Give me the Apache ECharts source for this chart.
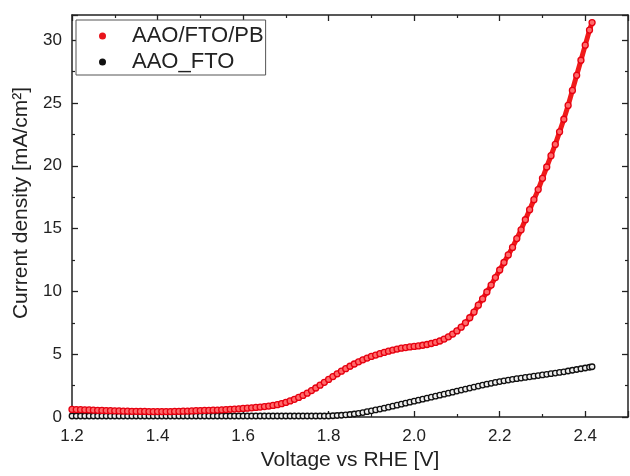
<html>
<head>
  <meta charset="utf-8">
  <title>LSV</title>
  <script src="https://cdn.jsdelivr.net/npm/echarts@6/dist/echarts.min.js"></script>
  <style>
    html, body { margin: 0; width: 100%; height: 100%; background: #fff; }
    #chart { width: 630px; height: 476px; }
  </style>
</head>
<body>
  <div id="chart"></div>
  <script>
    // voltage vs RHE [V]
    var voltage = [
      1.20, 1.21, 1.22, 1.23, 1.24, 1.25, 1.26, 1.27, 1.28, 1.29,
      1.30, 1.31, 1.32, 1.33, 1.34, 1.35, 1.36, 1.37, 1.38, 1.39,
      1.40, 1.41, 1.42, 1.43, 1.44, 1.45, 1.46, 1.47, 1.48, 1.49,
      1.50, 1.51, 1.52, 1.53, 1.54, 1.55, 1.56, 1.57, 1.58, 1.59,
      1.60, 1.61, 1.62, 1.63, 1.64, 1.65, 1.66, 1.67, 1.68, 1.69,
      1.70, 1.71, 1.72, 1.73, 1.74, 1.75, 1.76, 1.77, 1.78, 1.79,
      1.80, 1.81, 1.82, 1.83, 1.84, 1.85, 1.86, 1.87, 1.88, 1.89,
      1.90, 1.91, 1.92, 1.93, 1.94, 1.95, 1.96, 1.97, 1.98, 1.99,
      2.00, 2.01, 2.02, 2.03, 2.04, 2.05, 2.06, 2.07, 2.08, 2.09,
      2.10, 2.11, 2.12, 2.13, 2.14, 2.15, 2.16, 2.17, 2.18, 2.19,
      2.20, 2.21, 2.22, 2.23, 2.24, 2.25, 2.26, 2.27, 2.28, 2.29,
      2.30, 2.31, 2.32, 2.33, 2.34, 2.35, 2.36, 2.37, 2.38, 2.39,
      2.40, 2.41, 2.416
    ];

    // AAO/FTO/PB current density [mA/cm2]
    var pbCurrent = [
      0.60, 0.59, 0.58, 0.57, 0.56, 0.54, 0.53, 0.52, 0.51, 0.50,
      0.49, 0.48, 0.47, 0.46, 0.45, 0.45, 0.44, 0.44, 0.43, 0.43,
      0.43, 0.43, 0.43, 0.43, 0.44, 0.45, 0.46, 0.47, 0.48, 0.50,
      0.51, 0.52, 0.53, 0.54, 0.55, 0.57, 0.59, 0.61, 0.63, 0.65,
      0.68, 0.70, 0.73, 0.76, 0.79, 0.83, 0.87, 0.92, 0.98, 1.06,
      1.16, 1.28, 1.41, 1.56, 1.72, 1.90, 2.10, 2.31, 2.53, 2.76,
      2.99, 3.22, 3.44, 3.65, 3.85, 4.04, 4.22, 4.39, 4.55, 4.69,
      4.82, 4.93, 5.04, 5.14, 5.24, 5.33, 5.41, 5.48, 5.53, 5.58,
      5.62, 5.66, 5.71, 5.77, 5.85, 5.94, 6.05, 6.20, 6.38, 6.60,
      6.85, 7.15, 7.50, 7.90, 8.35, 8.90, 9.40, 9.95, 10.5, 11.1,
      11.7, 12.3, 12.9, 13.5, 14.2, 14.9, 15.7, 16.5, 17.3, 18.1,
      19.0, 19.9, 20.8, 21.7, 22.7, 23.7, 24.8, 26.0, 27.2, 28.4,
      29.6, 30.8, 31.4
    ];

    // AAO_FTO current density [mA/cm2]
    var ftoCurrent = [
      0.08, 0.08, 0.08, 0.08, 0.08, 0.08, 0.08, 0.08, 0.08, 0.08,
      0.08, 0.08, 0.08, 0.08, 0.08, 0.08, 0.08, 0.08, 0.08, 0.08,
      0.08, 0.08, 0.08, 0.08, 0.08, 0.08, 0.08, 0.08, 0.08, 0.08,
      0.08, 0.08, 0.08, 0.08, 0.08, 0.08, 0.08, 0.08, 0.08, 0.08,
      0.08, 0.08, 0.08, 0.08, 0.08, 0.08, 0.08, 0.08, 0.08, 0.08,
      0.08, 0.08, 0.08, 0.08, 0.08, 0.08, 0.08, 0.08, 0.08, 0.08,
      0.08, 0.10, 0.12, 0.14, 0.17, 0.20, 0.24, 0.29, 0.35, 0.42,
      0.49, 0.56, 0.63, 0.70, 0.78, 0.86, 0.94, 1.02, 1.10, 1.18,
      1.26, 1.34, 1.42, 1.50, 1.58, 1.66, 1.74, 1.82, 1.90, 1.98,
      2.06, 2.14, 2.22, 2.30, 2.38, 2.46, 2.54, 2.61, 2.68, 2.75,
      2.82, 2.88, 2.94, 3.00, 3.05, 3.10, 3.15, 3.20, 3.25, 3.30,
      3.35, 3.40, 3.45, 3.50, 3.55, 3.60, 3.66, 3.72, 3.78, 3.84,
      3.90, 3.96, 4.00
    ];

    var seriesNames = ['AAO/FTO/PB', 'AAO_FTO'];
    var xTitle = 'Voltage vs RHE [V]';
    var yTitle = 'Current density [mA/cm²]';

    function pairs(ys) {
      return voltage.map(function (v, i) { return [v, ys[i]]; });
    }

    var font = 'Liberation Sans, Arial, sans-serif';
    var axisColor = '#222';

    function xAxisCfg(top) {
      return {
        type: 'value',
        position: top ? 'top' : 'bottom',
        min: 1.2,
        max: 2.5,
        interval: 0.2,
        name: top ? '' : xTitle,
        nameLocation: 'middle',
        nameGap: 33,
        nameTextStyle: { fontFamily: font, fontSize: 21, color: axisColor },
        axisLine: { show: true, onZero: false, lineStyle: { color: axisColor, width: 1.5 } },
        axisTick: { show: true, inside: true, length: 6, lineStyle: { color: axisColor, width: 1.3 } },
        minorTick: { show: true, splitNumber: 2, length: 3, lineStyle: { color: axisColor, width: 1.2 } },
        axisLabel: {
          show: !top, margin: 11, showMaxLabel: false,
          fontFamily: font, fontSize: 17, color: axisColor,
          formatter: function (v) { return v.toFixed(1); }
        },
        splitLine: { show: false }
      };
    }

    function yAxisCfg(right) {
      return {
        type: 'value',
        position: right ? 'right' : 'left',
        min: 0,
        max: 32,
        interval: 5,
        name: right ? '' : yTitle,
        nameLocation: 'middle',
        nameGap: 36,
        nameRotate: 90,
        nameTextStyle: { fontFamily: font, fontSize: 21, color: axisColor, padding: [0, 0, 0, 26] },
        axisLine: { show: true, onZero: false, lineStyle: { color: axisColor, width: 1.5 } },
        axisTick: { show: true, inside: true, length: 6, lineStyle: { color: axisColor, width: 1.3 } },
        minorTick: { show: true, splitNumber: 2, length: 3, lineStyle: { color: axisColor, width: 1.2 } },
        axisLabel: {
          show: !right, margin: 10, showMaxLabel: false,
          fontFamily: font, fontSize: 17, color: axisColor
        },
        splitLine: { show: false }
      };
    }

    var chart = echarts.init(document.getElementById('chart'), null, { renderer: 'canvas' });

    var option = {
      animation: false,
      backgroundColor: '#fff',
      grid: { left: 72, right: 2, top: 15, bottom: 50 },
      xAxis: [xAxisCfg(false), xAxisCfg(true)],
      yAxis: [yAxisCfg(false), yAxisCfg(true)],
      legend: {
        left: 76,
        top: 20,
        orient: 'vertical',
        backgroundColor: '#fff',
        borderColor: '#555',
        borderWidth: 1,
        borderRadius: 0,
        padding: [5, 2, 2, 23],
        itemGap: 4,
        itemWidth: 7,
        itemHeight: 7,
        textStyle: { fontFamily: font, fontSize: 22, color: axisColor, lineHeight: 22, padding: [0, 0, 0, 21] },
        data: [
          { name: seriesNames[0], icon: 'circle', itemStyle: { color: '#e8141c', borderWidth: 0 } },
          { name: seriesNames[1], icon: 'circle', itemStyle: { color: '#111', borderWidth: 0 } }
        ]
      },
      series: [
        {
          name: seriesNames[1],
          type: 'line',
          data: pairs(ftoCurrent),
          symbol: 'circle',
          symbolSize: 5.5,
          showAllSymbol: true,
          lineStyle: { color: '#333', width: 1.5 },
          itemStyle: { color: '#eeeeee', borderColor: '#111', borderWidth: 1.3 },
          z: 2
        },
        {
          name: seriesNames[0],
          type: 'line',
          data: pairs(pbCurrent),
          symbol: 'circle',
          symbolSize: 6,
          showAllSymbol: true,
          lineStyle: { color: '#f01a1a', width: 5 },
          itemStyle: { color: '#ff6a6a', borderColor: '#e60010', borderWidth: 1.3 },
          z: 3
        }
      ]
    };

    chart.setOption(option);
  </script>
</body>
</html>
